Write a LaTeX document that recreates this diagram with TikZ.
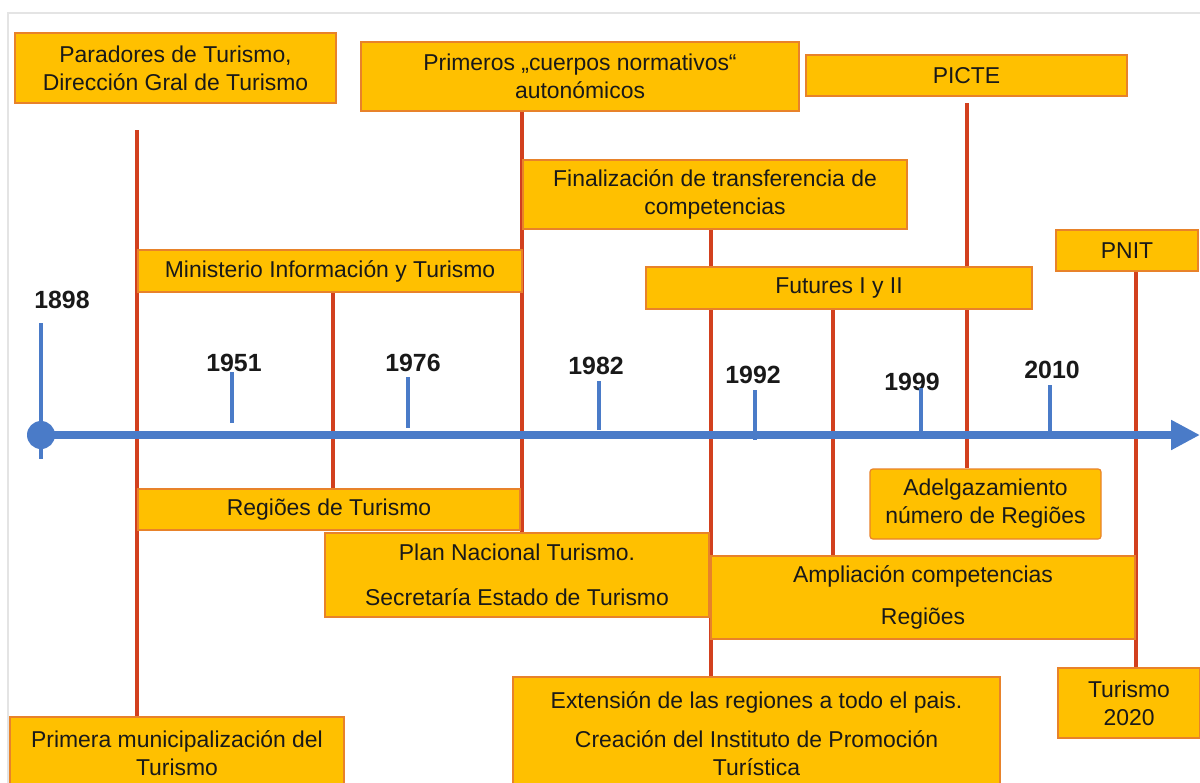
\documentclass[tikz,border=0pt]{standalone}
\usepackage{fontspec}
\setmainfont{Liberation Sans}
\usetikzlibrary{arrows.meta}
\definecolor{gold}{HTML}{FFC000}
\definecolor{goldedge}{HTML}{E8822A}
\definecolor{redl}{HTML}{D2401E}
\definecolor{bluel}{HTML}{4A7BC8}
\definecolor{framec}{HTML}{E4E4E4}
\pgfdeclarelayer{bg}
\pgfsetlayers{bg,main}
\begin{document}
\begin{tikzpicture}[x=0.025cm,y=-0.025cm,
  evbox/.style 2 args={draw=goldedge, line width=0.8pt, fill=gold,
    minimum width=#1*0.025cm, minimum height=#2*0.025cm, inner sep=0pt,
    align=center, font=\fontsize{16.3}{20}\selectfont, text=black!90},
  link/.style={draw=redl, line width=2.2pt},
  yr/.style={font=\bfseries\fontsize{17.7}{20}\selectfont, inner sep=0pt, text=black!90},
  yeartick/.style={draw=bluel, line width=2.5pt}]
\useasboundingbox (0,0) rectangle (1200,782);
\clip (0,0) rectangle (1200,782);

% event boxes
\node[evbox={321}{70}] (parad) at (175.5,68) {Paradores de Turismo,\\Dirección Gral de Turismo};
\node[evbox={438}{69}] (prim) at (580,76.5) {Primeros „cuerpos normativos“\\autonómicos};
\node[evbox={321}{41}] (picte) at (966.5,75.5) {PICTE};
\node[evbox={384}{69}] (final) at (715,194.5) {Finalización de transferencia de\\competencias};
\node[evbox={384}{42}] (minis) at (330,271) {Ministerio Información y Turismo};
\node[evbox={386}{42}] (futur) at (839,288) {Futures I y II};
\node[evbox={142}{41}] (pnit) at (1127,250.5) {PNIT};
\node[evbox={382}{41}] (regio) at (329,509.5) {Regiões de Turismo};
\node[evbox={384}{84}] (plan) at (517,575) {Plan Nacional Turismo.\\[12pt]Secretaría Estado de Turismo};
\node[evbox={231}{70}, rounded corners=2pt] (adelg) at (985.5,504) {Adelgazamiento\\número de Regiões};
\node[evbox={424}{83}] (ampl) at (923,597.5) {Ampliación competencias\\[10pt]Regiões};
\node[evbox={487}{113}] (ext) at (756.5,733.5) {Extensión de las regiones a todo el pais.\\[8pt]Creación del Instituto de Promoción\\Turística};
\node[evbox={142}{70}] (tur) at (1129,703) {Turismo\\2020};
\node[evbox={334}{73}] (primera) at (177,753.5) {Primera municipalización del\\Turismo};

% years
\node[yr] (y1898) at (62,300) {1898};
\node[yr] (y1951) at (234,363) {1951};
\node[yr] (y1976) at (413,363) {1976};
\node[yr] (y1982) at (596,366) {1982};
\node[yr] (y1992) at (753,375) {1992};
\node[yr] (y1999) at (912,382) {1999};
\node[yr] (y2010) at (1052,370) {2010};

% axis
\coordinate (ax0) at (41,435);
\coordinate (ax1) at (1200,435);
\begin{pgfonlayer}{bg}
\fill[white] (0,0) rectangle (1200,782);
\draw[framec, line width=1.5pt] (8,800) -- (8,13) -- (1210,13);
\coordinate (c1) at (137,130);
\coordinate (x333) at (333,0);
\coordinate (x522) at (522,0);
\coordinate (x711) at (711,0);
\coordinate (x833) at (833,0);
\coordinate (c6) at (967,103);
\coordinate (x1136) at (1136,0);
\draw[link] (c1) -- (primera.north -| c1);
\draw[link] (minis.south -| x333) -- (regio.north -| x333);
\draw[link] (prim.south -| x522) -- (plan.north -| x522);
\draw[link] (final.south -| x711) -- (ext.north -| x711);
\draw[link] (futur.south -| x833) -- (ampl.north -| x833);
\draw[link] (c6) -- (adelg.north -| c6);
\draw[link] (pnit.south -| x1136) -- (tur.north -| x1136);
\end{pgfonlayer}

\draw[bluel, line width=5.7pt, -{Triangle[length=20.5pt,width=20pt]}] (ax0) -- (ax1);
\fill[bluel] (ax0) circle (14);
\coordinate (t1898a) at (41,323); \coordinate (t1898b) at (41,459);
\draw[yeartick] (t1898a) -- (t1898b);
\coordinate (t1951a) at (232,372); \coordinate (t1951b) at (232,423);
\draw[yeartick] (t1951a) -- (t1951b);
\coordinate (t1976a) at (408,377); \coordinate (t1976b) at (408,428);
\draw[yeartick] (t1976a) -- (t1976b);
\coordinate (t1982a) at (599,381); \coordinate (t1982b) at (599,430);
\draw[yeartick] (t1982a) -- (t1982b);
\coordinate (t1992a) at (755,390); \coordinate (t1992b) at (755,440);
\draw[yeartick] (t1992a) -- (t1992b);
\coordinate (t1999a) at (921,388); \coordinate (t1999b) at (921,435);
\draw[yeartick] (t1999a) -- (t1999b);
\coordinate (t2010a) at (1050,385); \coordinate (t2010b) at (1050,435);
\draw[yeartick] (t2010a) -- (t2010b);
\end{tikzpicture}
\end{document}
